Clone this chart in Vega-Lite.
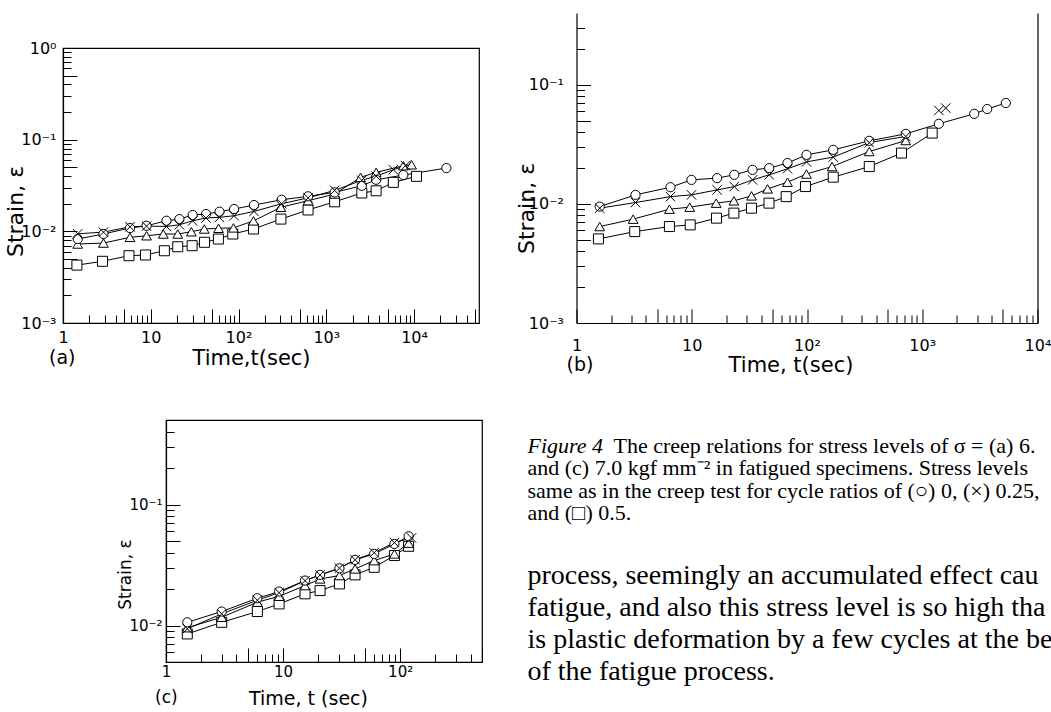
{
  "$schema": "https://vega.github.io/schema/vega-lite/v6.json",
  "background": "white",
  "padding": {"left": 3, "top": 13, "right": 0, "bottom": 0},
  "autosize": {"type": "pad"},
  "datasets": {
    "a": [
      {"ratio": "0.5", "t": 1.44, "strain": 0.00428}, {"ratio": "0.5", "t": 2.82, "strain": 0.00471}, {"ratio": "0.5", "t": 5.65, "strain": 0.00542}, {"ratio": "0.5", "t": 8.7, "strain": 0.00552}, {"ratio": "0.5", "t": 14.3, "strain": 0.00614}, {"ratio": "0.5", "t": 20.3, "strain": 0.00679}, {"ratio": "0.5", "t": 29.6, "strain": 0.00697}, {"ratio": "0.5", "t": 41, "strain": 0.00759}, {"ratio": "0.5", "t": 59, "strain": 0.00824}, {"ratio": "0.5", "t": 86, "strain": 0.00935}, {"ratio": "0.5", "t": 148, "strain": 0.0106}, {"ratio": "0.5", "t": 304, "strain": 0.0136}, {"ratio": "0.5", "t": 620, "strain": 0.0171}, {"ratio": "0.5", "t": 1245, "strain": 0.021}, {"ratio": "0.5", "t": 2540, "strain": 0.0262}, {"ratio": "0.5", "t": 3700, "strain": 0.0277}, {"ratio": "0.5", "t": 5810, "strain": 0.0342}, {"ratio": "0.5", "t": 10670, "strain": 0.0398},
      {"ratio": "Δ", "t": 1.47, "strain": 0.00727}, {"ratio": "Δ", "t": 2.89, "strain": 0.00745}, {"ratio": "Δ", "t": 5.8, "strain": 0.0086}, {"ratio": "Δ", "t": 8.96, "strain": 0.00895}, {"ratio": "Δ", "t": 13.9, "strain": 0.00935}, {"ratio": "Δ", "t": 20.3, "strain": 0.00935}, {"ratio": "Δ", "t": 29, "strain": 0.0099}, {"ratio": "Δ", "t": 40.7, "strain": 0.0106}, {"ratio": "Δ", "t": 59.2, "strain": 0.0108}, {"ratio": "Δ", "t": 87.5, "strain": 0.0109}, {"ratio": "Δ", "t": 148, "strain": 0.013}, {"ratio": "Δ", "t": 304, "strain": 0.0183}, {"ratio": "Δ", "t": 621, "strain": 0.0216}, {"ratio": "Δ", "t": 1245, "strain": 0.0255}, {"ratio": "Δ", "t": 2455, "strain": 0.0388}, {"ratio": "Δ", "t": 3700, "strain": 0.044}, {"ratio": "Δ", "t": 7550, "strain": 0.0519}, {"ratio": "Δ", "t": 9380, "strain": 0.0532},
      {"ratio": "0", "t": 1.47, "strain": 0.00824}, {"ratio": "0", "t": 2.89, "strain": 0.00936}, {"ratio": "0", "t": 5.8, "strain": 0.01086}, {"ratio": "0", "t": 8.96, "strain": 0.0115}, {"ratio": "0", "t": 15.1, "strain": 0.01305}, {"ratio": "0", "t": 21.2, "strain": 0.0136}, {"ratio": "0", "t": 30, "strain": 0.01506}, {"ratio": "0", "t": 42.6, "strain": 0.01545}, {"ratio": "0", "t": 60.7, "strain": 0.01637}, {"ratio": "0", "t": 89, "strain": 0.0175}, {"ratio": "0", "t": 150, "strain": 0.01936}, {"ratio": "0", "t": 310, "strain": 0.0221}, {"ratio": "0", "t": 621, "strain": 0.0241}, {"ratio": "0", "t": 1245, "strain": 0.0266}, {"ratio": "0", "t": 2540, "strain": 0.0314}, {"ratio": "0", "t": 3700, "strain": 0.0365}, {"ratio": "0", "t": 7550, "strain": 0.0411}, {"ratio": "0", "t": 23400, "strain": 0.049},
      {"ratio": "0.25", "t": 1.47, "strain": 0.0094}, {"ratio": "0.25", "t": 2.89, "strain": 0.0098}, {"ratio": "0.25", "t": 5.8, "strain": 0.0112}, {"ratio": "0.25", "t": 8.96, "strain": 0.0114}, {"ratio": "0.25", "t": 15.1, "strain": 0.0113}, {"ratio": "0.25", "t": 21.2, "strain": 0.0118}, {"ratio": "0.25", "t": 30, "strain": 0.013}, {"ratio": "0.25", "t": 42.6, "strain": 0.014}, {"ratio": "0.25", "t": 60.7, "strain": 0.0142}, {"ratio": "0.25", "t": 89, "strain": 0.0148}, {"ratio": "0.25", "t": 150, "strain": 0.0165}, {"ratio": "0.25", "t": 310, "strain": 0.02}, {"ratio": "0.25", "t": 621, "strain": 0.0232}, {"ratio": "0.25", "t": 1245, "strain": 0.028}, {"ratio": "0.25", "t": 2540, "strain": 0.036}, {"ratio": "0.25", "t": 3700, "strain": 0.04}, {"ratio": "0.25", "t": 5810, "strain": 0.047}, {"ratio": "0.25", "t": 8000, "strain": 0.052}
    ],
    "b": [
      {"ratio": "0.5", "t": 1.55, "strain": 0.00508}, {"ratio": "0.5", "t": 3.2, "strain": 0.00585}, {"ratio": "0.5", "t": 6.4, "strain": 0.00645}, {"ratio": "0.5", "t": 9.7, "strain": 0.00666}, {"ratio": "0.5", "t": 16.4, "strain": 0.00759}, {"ratio": "0.5", "t": 23.2, "strain": 0.00836}, {"ratio": "0.5", "t": 33, "strain": 0.0092}, {"ratio": "0.5", "t": 46.8, "strain": 0.01014}, {"ratio": "0.5", "t": 66, "strain": 0.0115}, {"ratio": "0.5", "t": 97, "strain": 0.01397}, {"ratio": "0.5", "t": 169, "strain": 0.01675}, {"ratio": "0.5", "t": 347, "strain": 0.02056}, {"ratio": "0.5", "t": 661, "strain": 0.0267}, {"ratio": "0.5", "t": 1220, "strain": 0.0393},
      {"ratio": "Δ", "t": 1.59, "strain": 0.00645}, {"ratio": "Δ", "t": 3.1, "strain": 0.00744}, {"ratio": "Δ", "t": 6.4, "strain": 0.00902}, {"ratio": "Δ", "t": 9.6, "strain": 0.00938}, {"ratio": "Δ", "t": 16.3, "strain": 0.01014}, {"ratio": "Δ", "t": 23.2, "strain": 0.0106}, {"ratio": "Δ", "t": 33, "strain": 0.01167}, {"ratio": "Δ", "t": 45.5, "strain": 0.01336}, {"ratio": "Δ", "t": 67.7, "strain": 0.0152}, {"ratio": "Δ", "t": 99, "strain": 0.0178}, {"ratio": "Δ", "t": 165, "strain": 0.02056}, {"ratio": "Δ", "t": 347, "strain": 0.0275}, {"ratio": "Δ", "t": 720, "strain": 0.034},
      {"ratio": "0", "t": 1.59, "strain": 0.00948}, {"ratio": "0", "t": 3.25, "strain": 0.0119}, {"ratio": "0", "t": 6.54, "strain": 0.0138}, {"ratio": "0", "t": 9.95, "strain": 0.0159}, {"ratio": "0", "t": 16.6, "strain": 0.01644}, {"ratio": "0", "t": 23.4, "strain": 0.01753}, {"ratio": "0", "t": 33.7, "strain": 0.0193}, {"ratio": "0", "t": 47, "strain": 0.01995}, {"ratio": "0", "t": 67.7, "strain": 0.022}, {"ratio": "0", "t": 99, "strain": 0.0258}, {"ratio": "0", "t": 169, "strain": 0.0284}, {"ratio": "0", "t": 347, "strain": 0.0338}, {"ratio": "0", "t": 720, "strain": 0.0387}, {"ratio": "0", "t": 1393, "strain": 0.047}, {"ratio": "0", "t": 2825, "strain": 0.057}, {"ratio": "0", "t": 3660, "strain": 0.0625}, {"ratio": "0", "t": 5310, "strain": 0.0702},
      {"ratio": "0.25", "t": 1.59, "strain": 0.0092}, {"ratio": "0.25", "t": 3.25, "strain": 0.01026}, {"ratio": "0.25", "t": 6.54, "strain": 0.0115}, {"ratio": "0.25", "t": 9.95, "strain": 0.0119}, {"ratio": "0.25", "t": 16.6, "strain": 0.0131}, {"ratio": "0.25", "t": 23.4, "strain": 0.01397}, {"ratio": "0.25", "t": 33.7, "strain": 0.0159}, {"ratio": "0.25", "t": 47, "strain": 0.01753}, {"ratio": "0.25", "t": 67.7, "strain": 0.0197}, {"ratio": "0.25", "t": 99, "strain": 0.0225}, {"ratio": "0.25", "t": 169, "strain": 0.0247}, {"ratio": "0.25", "t": 347, "strain": 0.0327}, {"ratio": "0.25", "t": 720, "strain": 0.0368}, {"ratio": "0.25", "t": 1393, "strain": 0.0608}, {"ratio": "0.25", "t": 1600, "strain": 0.0637}
    ],
    "c": [
      {"ratio": "0.5", "t": 1.52, "strain": 0.00853}, {"ratio": "0.5", "t": 2.99, "strain": 0.01064}, {"ratio": "0.5", "t": 6.03, "strain": 0.01306}, {"ratio": "0.5", "t": 9.25, "strain": 0.0151}, {"ratio": "0.5", "t": 15.4, "strain": 0.0183}, {"ratio": "0.5", "t": 20.7, "strain": 0.01946}, {"ratio": "0.5", "t": 30.3, "strain": 0.0221}, {"ratio": "0.5", "t": 41.2, "strain": 0.02624}, {"ratio": "0.5", "t": 60, "strain": 0.0303}, {"ratio": "0.5", "t": 89.3, "strain": 0.0379}, {"ratio": "0.5", "t": 118, "strain": 0.0452},
      {"ratio": "Δ", "t": 1.52, "strain": 0.0096}, {"ratio": "Δ", "t": 2.99, "strain": 0.01172}, {"ratio": "Δ", "t": 6.03, "strain": 0.0156}, {"ratio": "Δ", "t": 9.25, "strain": 0.01746}, {"ratio": "Δ", "t": 15.4, "strain": 0.0214}, {"ratio": "Δ", "t": 20.7, "strain": 0.0243}, {"ratio": "Δ", "t": 30.3, "strain": 0.0259}, {"ratio": "Δ", "t": 41.2, "strain": 0.0294}, {"ratio": "Δ", "t": 60, "strain": 0.0344}, {"ratio": "Δ", "t": 89.3, "strain": 0.0391}, {"ratio": "Δ", "t": 118, "strain": 0.048},
      {"ratio": "0", "t": 1.52, "strain": 0.01064}, {"ratio": "0", "t": 2.99, "strain": 0.01306}, {"ratio": "0", "t": 6.03, "strain": 0.01682}, {"ratio": "0", "t": 9.25, "strain": 0.0191}, {"ratio": "0", "t": 15.4, "strain": 0.02355}, {"ratio": "0", "t": 20.7, "strain": 0.02624}, {"ratio": "0", "t": 30.3, "strain": 0.02976}, {"ratio": "0", "t": 41.2, "strain": 0.0349}, {"ratio": "0", "t": 60, "strain": 0.0391}, {"ratio": "0", "t": 89.3, "strain": 0.0473}, {"ratio": "0", "t": 118, "strain": 0.0547},
      {"ratio": "0.25", "t": 1.52, "strain": 0.0094}, {"ratio": "0.25", "t": 2.99, "strain": 0.0125}, {"ratio": "0.25", "t": 6.03, "strain": 0.0162}, {"ratio": "0.25", "t": 9.25, "strain": 0.0187}, {"ratio": "0.25", "t": 15.4, "strain": 0.0235}, {"ratio": "0.25", "t": 20.7, "strain": 0.0262}, {"ratio": "0.25", "t": 30.3, "strain": 0.0298}, {"ratio": "0.25", "t": 41.2, "strain": 0.035}, {"ratio": "0.25", "t": 60, "strain": 0.04}, {"ratio": "0.25", "t": 89.3, "strain": 0.0485}, {"ratio": "0.25", "t": 125, "strain": 0.053}
    ]
  },
  "spacing": 31.5,
  "hconcat": [
    {
      "spacing": 0,
      "vconcat": [
        {"width": 1, "height": 26, "data": {"values": [{}]}, "mark": {"type": "point", "opacity": 0}, "encoding": {}},
        {
          "width": 416, "height": 275,
          "view": {"stroke": "black", "strokeWidth": 1.2},
          "title": {"text": "(a)", "orient": "bottom", "anchor": "start", "frame": "group", "offset": -19, "dx": -14, "fontSize": 19, "font": "DejaVu Sans", "fontWeight": "normal"},
          "data": {"name": "a"},
          "layer": [
            {
              "mark": {"type": "line", "color": "black", "strokeWidth": 1},
              "encoding": {
                "x": {"field": "t", "type": "quantitative", "scale": {"type": "log", "domain": [1, 55000], "nice": false},
                  "axis": {"values": [1,2,3,4,5,6,7,8,9,10,20,30,40,50,60,70,80,90,100,200,300,400,500,600,700,800,900,1000,2000,3000,4000,5000,6000,7000,8000,9000,10000,20000,30000,40000,50000],
                    "labelExpr": "datum.value == 1 ? '1' : datum.value == 10 ? '10' : datum.value == 100 ? '10²' : datum.value == 1000 ? '10³' : datum.value == 10000 ? '10⁴' : ''",
                    "tickSize": {"condition": {"test": "indexof([1,5,10,50,100,500,1000,5000,10000,50000], datum.value) >= 0", "value": -14}, "value": -8},
                    "labelPadding": 20, "labelFontSize": 16,
                    "title": "Time,t(sec)", "titleFontSize": 21, "titleX": 188, "titleY": 35, "titleBaseline": "middle"}},
                "y": {"field": "strain", "type": "quantitative", "scale": {"type": "log", "domain": [0.001, 1], "nice": false},
                  "axis": {"values": [0.001,0.002,0.003,0.004,0.005,0.006,0.007,0.008,0.009,0.01,0.02,0.03,0.04,0.05,0.06,0.07,0.08,0.09,0.1,0.2,0.3,0.4,0.5,0.6,0.7,0.8,0.9,1],
                    "labelExpr": "datum.value == 1 ? '10⁰' : datum.value == 0.1 ? '10⁻¹' : datum.value == 0.01 ? '10⁻²' : datum.value == 0.001 ? '10⁻³' : ''",
                    "tickSize": {"condition": {"test": "indexof([0.001,0.005,0.01,0.05,0.1,0.5,1], datum.value) >= 0", "value": -14}, "value": -8},
                    "labelPadding": 21, "labelFontSize": 16,
                    "title": "Strain, ε", "titleFontSize": 22, "titleX": -48, "titleY": 163, "titleBaseline": "middle"}},
                "detail": {"field": "ratio", "type": "nominal"}
              }
            },
            {
              "mark": {"type": "point", "filled": true, "fill": "white", "stroke": "black", "strokeWidth": 1, "opacity": 1},
              "encoding": {
                "x": {"field": "t", "type": "quantitative", "scale": {"type": "log", "domain": [1, 55000], "nice": false}},
                "y": {"field": "strain", "type": "quantitative", "scale": {"type": "log", "domain": [0.001, 1], "nice": false}},
                "shape": {"field": "ratio", "type": "nominal", "scale": {"domain": ["0", "0.25", "Δ", "0.5"], "range": ["circle", "M-1,-1L1,1M-1,1L1,-1", "triangle-up", "square"]}, "legend": null},
                "size": {"field": "ratio", "type": "nominal", "scale": {"domain": ["0", "0.25", "Δ", "0.5"], "range": [85, 100, 130, 95]}, "legend": null}
              }
            }
          ]
        },
        {"width": 1, "height": 43, "data": {"values": [{}]}, "mark": {"type": "point", "opacity": 0}, "encoding": {}},
        {
          "spacing": 0,
          "hconcat": [
            {"width": 51.5, "height": 1, "data": {"values": [{}]}, "mark": {"type": "point", "opacity": 0}, "encoding": {}},
            {
              "width": 316, "height": 242,
              "view": {"stroke": "black", "strokeWidth": 1.2},
              "title": {"text": "(c)", "orient": "bottom", "anchor": "start", "frame": "group", "offset": -18, "dx": -11, "fontSize": 17, "font": "DejaVu Sans", "fontWeight": "normal"},
              "data": {"name": "c"},
              "layer": [
                {
                  "mark": {"type": "line", "color": "black", "strokeWidth": 1},
                  "encoding": {
                    "x": {"field": "t", "type": "quantitative", "scale": {"type": "log", "domain": [1, 500], "nice": false},
                      "axis": {"values": [1,2,3,4,5,6,7,8,9,10,20,30,40,50,60,70,80,90,100,200,300,400,500],
                        "labelExpr": "datum.value == 1 ? '1' : datum.value == 10 ? '10' : datum.value == 100 ? '10²' : ''",
                        "tickSize": {"condition": {"test": "indexof([1,5,10,50,100,500], datum.value) >= 0", "value": -14}, "value": -8},
                        "labelPadding": 16, "labelFontSize": 15,
                        "title": "Time, t (sec)", "titleFontSize": 19, "titleX": 142, "titleY": 36, "titleBaseline": "middle"}},
                    "y": {"field": "strain", "type": "quantitative", "scale": {"type": "log", "domain": [0.005, 0.5], "nice": false},
                      "axis": {"values": [0.005,0.006,0.007,0.008,0.009,0.01,0.02,0.03,0.04,0.05,0.06,0.07,0.08,0.09,0.1,0.2,0.3,0.4,0.5],
                        "labelExpr": "datum.value == 0.1 ? '10⁻¹' : datum.value == 0.01 ? '10⁻²' : ''",
                        "tickSize": {"condition": {"test": "indexof([0.005,0.01,0.05,0.1,0.5], datum.value) >= 0", "value": -14}, "value": -8},
                        "labelPadding": 18, "labelFontSize": 15,
                        "title": "Strain, ε", "titleFontSize": 17, "titleX": -41, "titleY": 154, "titleBaseline": "middle"}},
                    "detail": {"field": "ratio", "type": "nominal"}
                  }
                },
                {
                  "mark": {"type": "point", "filled": true, "fill": "white", "stroke": "black", "strokeWidth": 1, "opacity": 1},
                  "encoding": {
                    "x": {"field": "t", "type": "quantitative", "scale": {"type": "log", "domain": [1, 500], "nice": false}},
                    "y": {"field": "strain", "type": "quantitative", "scale": {"type": "log", "domain": [0.005, 0.5], "nice": false}},
                    "shape": {"field": "ratio", "type": "nominal", "scale": {"domain": ["0", "0.25", "Δ", "0.5"], "range": ["circle", "M-1,-1L1,1M-1,1L1,-1", "triangle-up", "square"]}, "legend": null},
                    "size": {"field": "ratio", "type": "nominal", "scale": {"domain": ["0", "0.25", "Δ", "0.5"], "range": [100, 110, 140, 130]}, "legend": null}
                  }
                }
              ]
            }
          ]
        }
      ]
    },
    {
      "spacing": 59.5,
      "vconcat": [
        {
          "width": 461, "height": 310,
          "title": {"text": "(b)", "orient": "bottom", "anchor": "start", "frame": "group", "offset": -19, "dx": -10, "fontSize": 19, "font": "DejaVu Sans", "fontWeight": "normal"},
          "data": {"name": "b"},
          "resolve": {"axis": {"y": "independent"}},
          "layer": [
            {
              "transform": [{"filter": "datum.ratio != '0.25' || datum.t < 1000"}],
              "mark": {"type": "line", "color": "black", "strokeWidth": 1},
              "encoding": {
                "x": {"field": "t", "type": "quantitative", "scale": {"type": "log", "domain": [1, 10000], "nice": false},
                  "axis": {"values": [1,2,3,4,5,6,7,8,9,10,20,30,40,50,60,70,80,90,100,200,300,400,500,600,700,800,900,1000,2000,3000,4000,5000,6000,7000,8000,9000,10000],
                    "labelExpr": "datum.value == 1 ? '1' : datum.value == 10 ? '10' : datum.value == 100 ? '10²' : datum.value == 1000 ? '10³' : datum.value == 10000 ? '10⁴' : ''",
                    "tickSize": {"condition": {"test": "indexof([1,5,10,50,100,500,1000,5000,10000], datum.value) >= 0", "value": -14}, "value": -8},
                    "labelPadding": 28, "labelFontSize": 16,
                    "title": "Time, t(sec)", "titleFontSize": 21, "titleX": 214, "titleY": 42, "titleBaseline": "middle"}},
                "y": {"field": "strain", "type": "quantitative", "scale": {"type": "log", "domain": [0.001, 0.4], "nice": false},
                  "axis": {"values": [0.001,0.002,0.003,0.004,0.005,0.006,0.007,0.008,0.009,0.01,0.02,0.03,0.04,0.05,0.06,0.07,0.08,0.09,0.1,0.2,0.3],
                    "labelExpr": "datum.value == 0.1 ? '10⁻¹' : datum.value == 0.01 ? '10⁻²' : datum.value == 0.001 ? '10⁻³' : ''",
                    "tickSize": {"condition": {"test": "indexof([0.001,0.005,0.01,0.05,0.1], datum.value) >= 0", "value": -14}, "value": -8},
                    "labelPadding": 27, "labelFontSize": 16,
                    "title": "Strain, ε", "titleFontSize": 22, "titleX": -50, "titleY": 195, "titleBaseline": "middle"}},
                "detail": {"field": "ratio", "type": "nominal"}
              }
            },
            {
              "mark": {"type": "point", "filled": true, "fill": "white", "stroke": "black", "strokeWidth": 1, "opacity": 1},
              "encoding": {
                "x": {"field": "t", "type": "quantitative", "scale": {"type": "log", "domain": [1, 10000], "nice": false}},
                "y": {"field": "strain", "type": "quantitative", "scale": {"type": "log", "domain": [0.001, 0.4], "nice": false},
                  "axis": {"orient": "right", "labels": false, "ticks": false, "title": null, "domain": true}},
                "shape": {"field": "ratio", "type": "nominal", "scale": {"domain": ["0", "0.25", "Δ", "0.5"], "range": ["circle", "M-1,-1L1,1M-1,1L1,-1", "triangle-up", "square"]}, "legend": null},
                "size": {"field": "ratio", "type": "nominal", "scale": {"domain": ["0", "0.25", "Δ", "0.5"], "range": [140, 130, 170, 140]}, "legend": null}
              }
            }
          ]
        },
        {
          "spacing": 35.25,
          "vconcat": [
            {
              "width": 2, "height": 90,
              "encoding": {
                "y": {"field": "line", "type": "ordinal", "scale": {"type": "point", "domain": [1, 2, 3, 4], "padding": 0.5}, "axis": null},
                "text": {"field": "text", "type": "nominal"}
              },
              "layer": [
                {"data": {"values": [{"line": 1, "text": "Figure 4"}]},
                 "mark": {"type": "text", "align": "left", "baseline": "middle", "font": "Liberation Serif", "fontSize": 22, "fontStyle": "italic", "dx": -50, "color": "black"}},
                {"data": {"values": [{"line": 1, "text": "The creep relations for stress levels of σ = (a) 6."}]},
                 "mark": {"type": "text", "align": "left", "baseline": "middle", "font": "Liberation Serif", "fontSize": 22, "dx": 36, "color": "black"}},
                {"data": {"values": [{"line": 2, "text": "and (c) 7.0 kgf mm⁻² in fatigued specimens. Stress levels"}, {"line": 3, "text": "same as in the creep test for cycle ratios of (○) 0, (×) 0.25,"}, {"line": 4, "text": "and (□) 0.5."}]},
                 "mark": {"type": "text", "align": "left", "baseline": "middle", "font": "Liberation Serif", "fontSize": 22, "dx": -50, "color": "black"}}
              ]
            },
            {
              "width": 2, "height": 128,
              "data": {"values": [
                {"line": 1, "text": "process, seemingly an accumulated effect cau"},
                {"line": 2, "text": "fatigue, and also this stress level is so high tha"},
                {"line": 3, "text": "is plastic deformation by a few cycles at the be"},
                {"line": 4, "text": "of the fatigue process."}
              ]},
              "mark": {"type": "text", "align": "left", "baseline": "middle", "font": "Liberation Serif", "fontSize": 28, "dx": -50, "color": "black"},
              "encoding": {
                "y": {"field": "line", "type": "ordinal", "scale": {"type": "point", "domain": [1, 2, 3, 4], "padding": 0.5}, "axis": null},
                "text": {"field": "text", "type": "nominal"}
              }
            }
          ]
        }
      ]
    }
  ],
  "config": {
    "view": {"stroke": null},
    "axis": {
      "grid": false, "domainColor": "black", "domainWidth": 1.2, "tickColor": "black", "tickWidth": 1,
      "labelColor": "black", "titleColor": "black", "labelFont": "DejaVu Sans", "titleFont": "DejaVu Sans",
      "titleFontWeight": "normal", "labelFlush": false, "labelOverlap": false, "labelBound": false
    }
  }
}
